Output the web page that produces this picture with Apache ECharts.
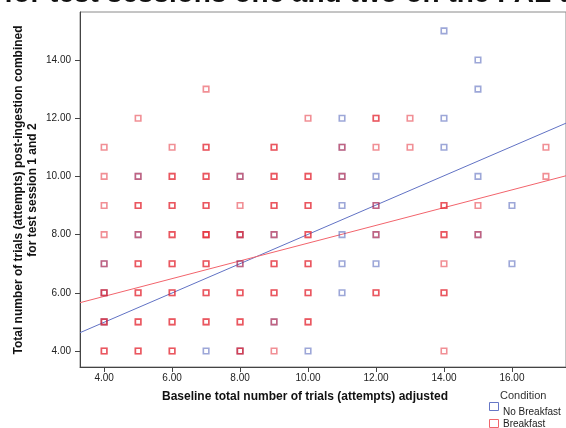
<!DOCTYPE html>
<html>
<head>
<meta charset="utf-8">
<script src="https://cdn.jsdelivr.net/npm/echarts@6/dist/echarts.min.js"></script>
<style>
  html, body { margin: 0; padding: 0; background: #fff; }
  #chart { width: 566px; height: 428px; }
</style>
</head>
<body>
<div id="chart"></div>
<script>
// Baseline trials (x), post-ingestion trials (y) and number of participants at each point
const breakfastX = [4,4,4,4,4,4,4,4, 5,5,5,5,5,5,5,5, 6,6,6,6,6,6,6,6, 7,7,7,7,7,7,7,7, 8,8,8,8,8,8,8, 9,9,9,9,9,9,9,9, 10,10,10,10,10,10,10, 11,11, 12,12,12,12,12, 13,13, 14,14,14,14,14, 15,15, 17,17];
const breakfastY = [11,10,9,8,7,6,5,4, 12,10,9,8,7,6,5,4, 11,10,9,8,7,6,5,4, 13,11,10,9,8,7,6,5, 10,9,8,7,6,5,4, 11,10,9,8,7,6,5,4, 12,10,9,8,7,6,5, 11,10, 12,11,9,8,6, 12,11, 9,8,7,6,4, 9,8, 11,10];
const breakfastN = [1,1,1,1,1,2,2,2, 1,1,2,1,2,2,2,2, 1,2,2,2,2,2,2,2, 1,2,2,2,3,2,2,2, 1,1,2,1,2,2,2, 2,2,2,1,2,2,1,1, 1,2,2,2,2,2,2, 1,1, 2,1,1,1,2, 1,1, 2,2,1,2,1, 1,1, 1,1];

const noBreakfastX = [4,4,4, 5,5, 7, 8,8,8,8, 9,9, 10, 11,11,11,11,11,11,11, 12,12,12,12, 14,14,14, 15,15,15,15, 16,16];
const noBreakfastY = [7,6,5, 10,8, 4, 10,8,7,4, 8,5, 4, 12,11,10,9,8,7,6, 10,9,8,7, 15,12,11, 14,13,10,8, 9,7];
const noBreakfastN = [1,1,1, 1,1, 1, 1,1,1,1, 1,1, 1, 1,1,1,1,1,1,1, 1,1,1,1, 1,1,1, 1,1,1,1, 1,1];

// Linear fit lines: [intercept, slope]
const noBreakfastFit = [2.973, 0.5035];
const breakfastFit = [4.657, 0.305];

const xTicks = [4, 6, 8, 10, 12, 14, 16];
const yTicks = [4, 6, 8, 10, 12, 14];
const xRange = [3.29, 17.59];
const yRange = [3.45, 15.65];

const seriesNames = ['No Breakfast', 'Breakfast'];
const titleText = 'for test sessions one and two on the PAL task';
const xTitle = 'Baseline total number of trials (attempts) adjusted';
const yTitle = 'Total number of trials (attempts) post-ingestion combined\nfor test session 1 and 2';

const BLUE = '#3b50b2';
const RED = '#e31f2b';
const FONT = '"Liberation Sans", Arial, sans-serif';

// Each participant is drawn as its own translucent marker, so shared points darken
function expand(xs, ys, ns) {
  const out = [];
  for (let i = 0; i < xs.length; i++) {
    for (let k = 0; k < ns[i]; k++) out.push([xs[i], ys[i]]);
  }
  return out;
}
function fitLine(fit) {
  return xRange.map(x => [x, fit[0] + fit[1] * x]);
}

const markerStyle = (c) => ({
  color: 'rgba(0,0,0,0)',
  borderColor: c,
  borderWidth: 1.6,
  opacity: 0.5
});

const chart = echarts.init(document.getElementById('chart'), null, { renderer: 'canvas' });
chart.setOption({
  animation: false,
  backgroundColor: '#fff',
  grid: {
    left: 80, top: 12, right: 0, bottom: 61,
    show: true, borderColor: '#8a8a8a', borderWidth: 1, backgroundColor: 'transparent'
  },
  xAxis: {
    type: 'value', min: xRange[0], max: xRange[1],
    axisLine: { show: true, lineStyle: { color: '#444', width: 1 } },
    axisTick: { show: true, customValues: xTicks, length: 5, lineStyle: { color: '#444' } },
    axisLabel: {
      customValues: xTicks, formatter: v => v.toFixed(2),
      fontSize: 10, color: '#222', margin: 6, fontFamily: FONT
    },
    splitLine: { show: false }
  },
  yAxis: {
    type: 'value', min: yRange[0], max: yRange[1],
    axisLine: { show: true, lineStyle: { color: '#444', width: 1 } },
    axisTick: { show: true, customValues: yTicks, length: 5, lineStyle: { color: '#444' } },
    axisLabel: {
      customValues: yTicks, formatter: v => v.toFixed(2),
      fontSize: 10, color: '#222', margin: 9, fontFamily: FONT
    },
    splitLine: { show: false }
  },
  series: [
    {
      name: seriesNames[0], type: 'scatter', symbol: 'rect', symbolSize: 5.5,
      data: expand(noBreakfastX, noBreakfastY, noBreakfastN),
      itemStyle: markerStyle(BLUE), z: 3
    },
    {
      name: seriesNames[1], type: 'scatter', symbol: 'rect', symbolSize: 5.5,
      data: expand(breakfastX, breakfastY, breakfastN),
      itemStyle: markerStyle(RED), z: 3
    },
    {
      type: 'line', data: fitLine(noBreakfastFit), showSymbol: false, symbol: 'none',
      lineStyle: { color: '#6172c4', width: 1 }, z: 2, silent: true
    },
    {
      type: 'line', data: fitLine(breakfastFit), showSymbol: false, symbol: 'none',
      lineStyle: { color: '#f2646c', width: 1 }, z: 2, silent: true
    }
  ],
  graphic: [
    {
      type: 'text', x: 4, y: 8,
      style: { text: titleText, font: 'bold 28px ' + FONT, fill: '#111', align: 'left', verticalAlign: 'bottom' }
    },
    {
      type: 'text', x: 26, y: 190, rotation: Math.PI / 2,
      style: { text: yTitle, font: 'bold 12px ' + FONT, fill: '#111', align: 'center', verticalAlign: 'middle', lineHeight: 14 }
    },
    {
      type: 'text', x: 305, y: 397,
      style: { text: xTitle, font: 'bold 12px ' + FONT, fill: '#111', align: 'center', verticalAlign: 'middle' }
    },
    {
      type: 'text', x: 500, y: 396,
      style: { text: 'Condition', font: '11px ' + FONT, fill: '#333', align: 'left', verticalAlign: 'middle' }
    },
    {
      type: 'rect', shape: { x: 489.5, y: 402.5, width: 9, height: 8 },
      style: { fill: 'none', stroke: '#6677c6', lineWidth: 1 }
    },
    {
      type: 'text', x: 503, y: 412,
      style: { text: seriesNames[0], font: '10px ' + FONT, fill: '#222', align: 'left', verticalAlign: 'middle' }
    },
    {
      type: 'rect', shape: { x: 489.5, y: 419.5, width: 9, height: 8 },
      style: { fill: 'none', stroke: '#f0666c', lineWidth: 1 }
    },
    {
      type: 'text', x: 503, y: 424,
      style: { text: seriesNames[1], font: '10px ' + FONT, fill: '#222', align: 'left', verticalAlign: 'middle' }
    }
  ]
});
</script>
</body>
</html>
